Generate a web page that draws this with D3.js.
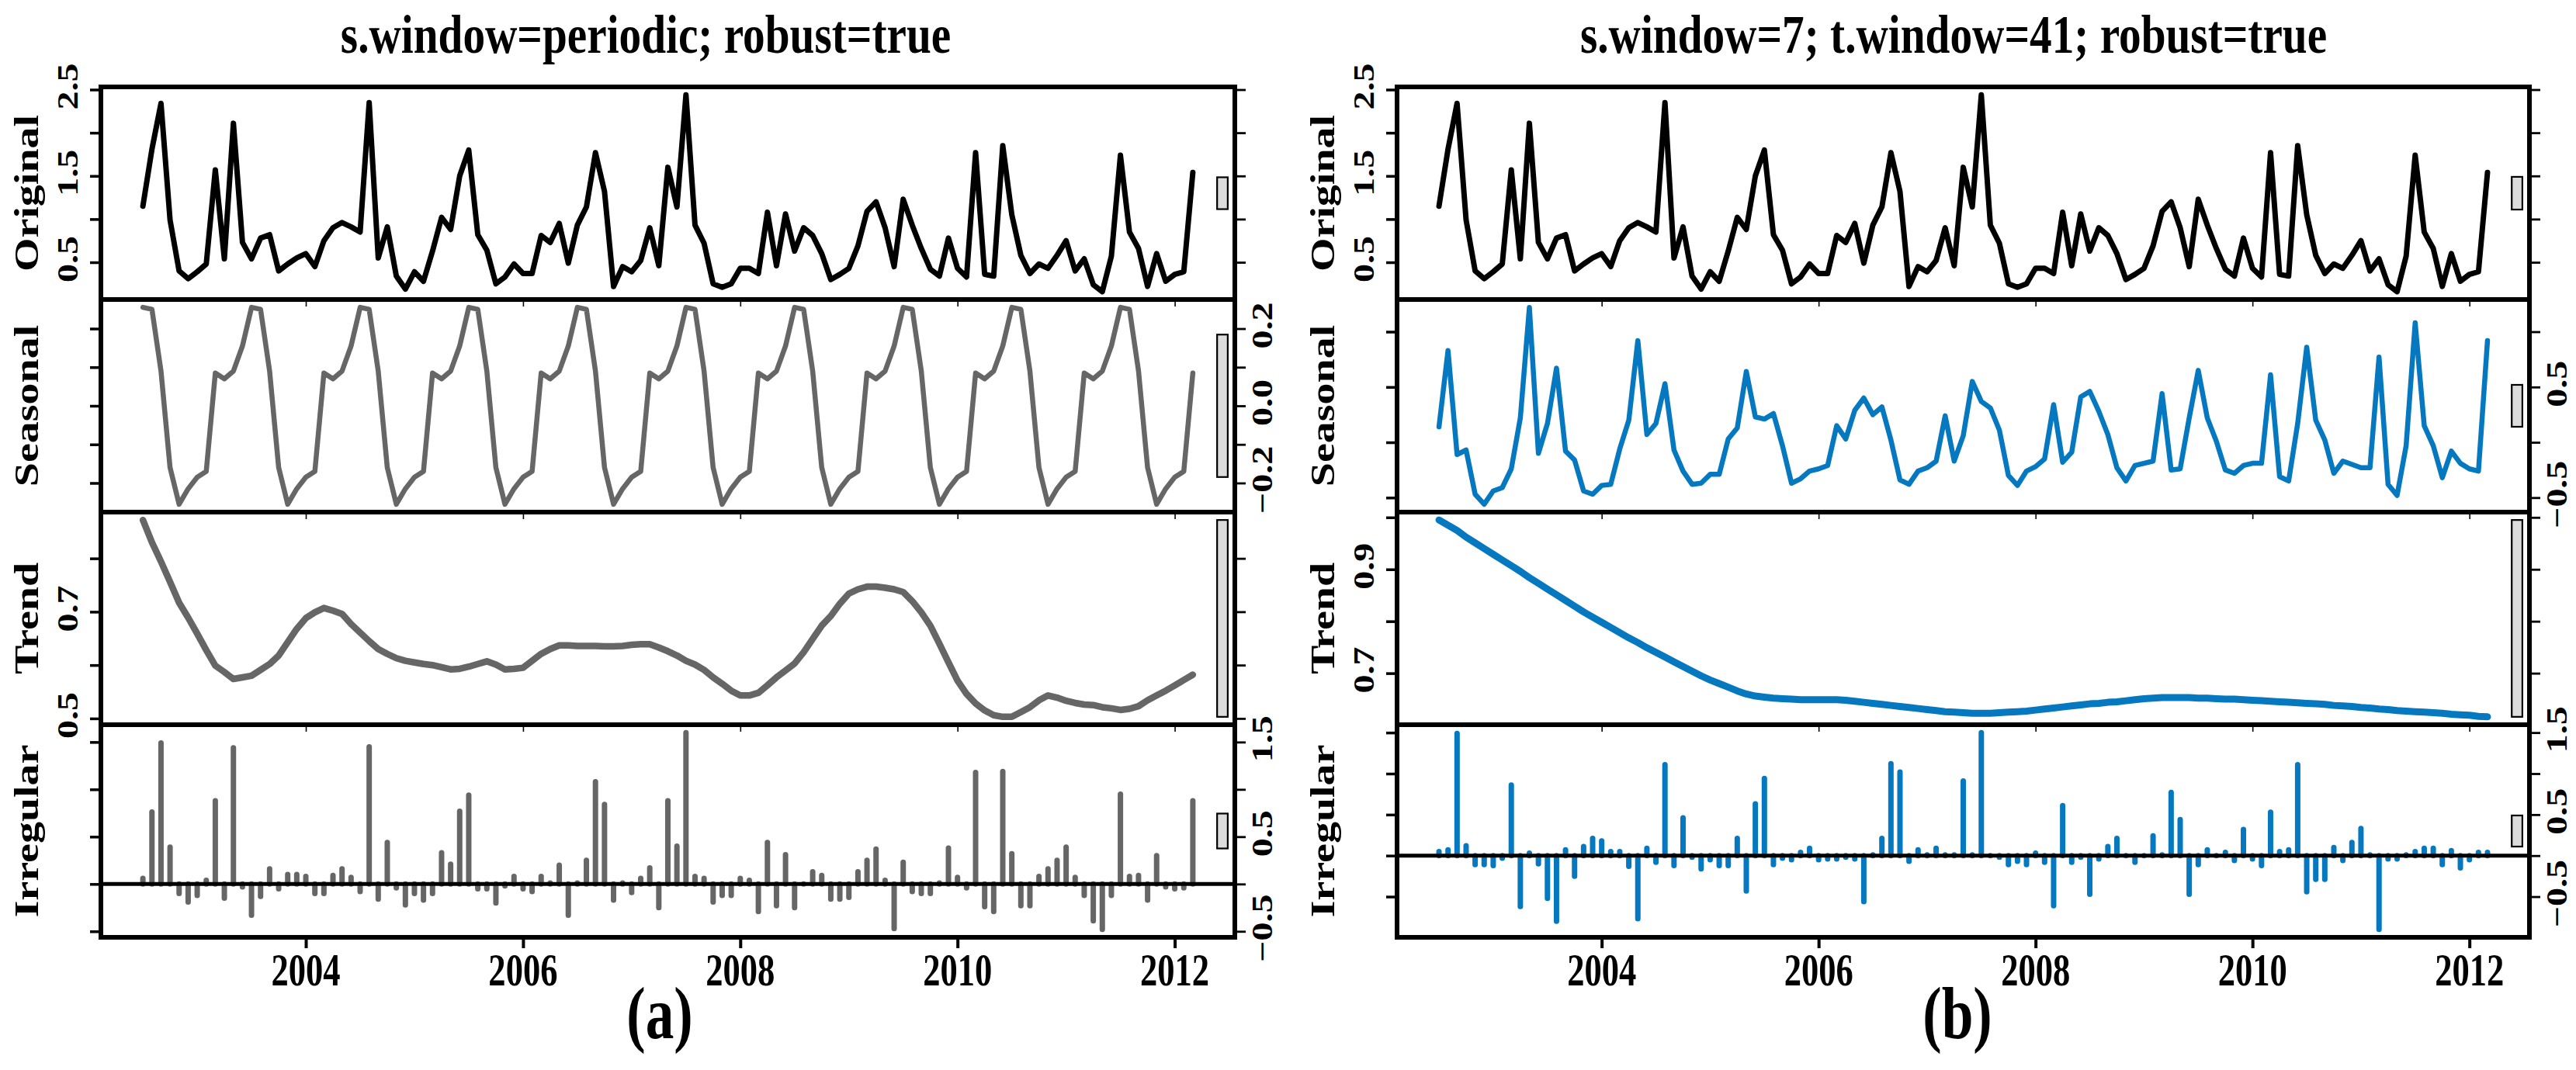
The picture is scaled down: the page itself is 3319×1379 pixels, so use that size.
<!DOCTYPE html>
<html>
<head>
<meta charset="utf-8">
<script src="https://cdn.jsdelivr.net/npm/d3@7"></script>
<style>
  body { margin: 0; background: #fff; }
  text { font-family: "Liberation Serif", "Times New Roman", serif; font-weight: bold; fill: #000; }
</style>
</head>
<body>
<div id="chart"></div>
<script>
// monthly series, July 2002 .. March 2012
const startYear = 2002.5;

const original = [
  1.15, 1.81, 2.34, 0.99, 0.40, 0.31, 0.39, 0.48, 1.57, 0.54,
  2.11, 0.73, 0.54, 0.78, 0.82, 0.40, 0.48, 0.55, 0.60, 0.45,
  0.75, 0.90, 0.96, 0.91, 0.85, 2.35, 0.55, 0.91, 0.34, 0.19,
  0.39, 0.28, 0.63, 1.02, 0.88, 1.50, 1.80, 0.82, 0.64, 0.25,
  0.33, 0.48, 0.37, 0.37, 0.81, 0.73, 0.95, 0.49, 0.93, 1.14,
  1.77, 1.32, 0.22, 0.45, 0.39, 0.52, 0.90, 0.46, 1.60, 1.14,
  2.44, 0.93, 0.72, 0.25, 0.21, 0.25, 0.43, 0.43, 0.37, 1.08,
  0.46, 1.06, 0.63, 0.90, 0.81, 0.60, 0.30, 0.36, 0.43, 0.69,
  1.09, 1.20, 0.90, 0.45, 1.23, 0.93, 0.66, 0.42, 0.34, 0.78,
  0.43, 0.33, 1.77, 0.36, 0.34, 1.85, 1.05, 0.58, 0.37, 0.48,
  0.43, 0.58, 0.75, 0.40, 0.54, 0.24, 0.16, 0.57, 1.74, 0.85,
  0.66, 0.22, 0.60, 0.28, 0.36, 0.39, 1.54
];

// (a) s.window = periodic
const seasonalA = [
  0.255, 0.25, 0.09, -0.16, -0.255, -0.215, -0.185, -0.17, 0.085, 0.07, 0.09, 0.155,
  0.255, 0.25, 0.09, -0.16, -0.255, -0.215, -0.185, -0.17, 0.085, 0.07, 0.09, 0.155,
  0.255, 0.25, 0.09, -0.16, -0.255, -0.215, -0.185, -0.17, 0.085, 0.07, 0.09, 0.155,
  0.255, 0.25, 0.09, -0.16, -0.255, -0.215, -0.185, -0.17, 0.085, 0.07, 0.09, 0.155,
  0.255, 0.25, 0.09, -0.16, -0.255, -0.215, -0.185, -0.17, 0.085, 0.07, 0.09, 0.155,
  0.255, 0.25, 0.09, -0.16, -0.255, -0.215, -0.185, -0.17, 0.085, 0.07, 0.09, 0.155,
  0.255, 0.25, 0.09, -0.16, -0.255, -0.215, -0.185, -0.17, 0.085, 0.07, 0.09, 0.155,
  0.255, 0.25, 0.09, -0.16, -0.255, -0.215, -0.185, -0.17, 0.085, 0.07, 0.09, 0.155,
  0.255, 0.25, 0.09, -0.16, -0.255, -0.215, -0.185, -0.17, 0.085, 0.07, 0.09, 0.155,
  0.255, 0.25, 0.09, -0.16, -0.255, -0.215, -0.185, -0.17, 0.085
];

const trendA = [
  0.872, 0.830, 0.794, 0.756, 0.717, 0.689, 0.659, 0.628, 0.599, 0.587,
  0.574, 0.577, 0.580, 0.591, 0.602, 0.618, 0.643, 0.668, 0.688, 0.699,
  0.707, 0.702, 0.696, 0.677, 0.661, 0.645, 0.630, 0.621, 0.613, 0.608,
  0.605, 0.602, 0.600, 0.596, 0.592, 0.593, 0.597, 0.602, 0.607, 0.601,
  0.592, 0.593, 0.595, 0.608, 0.621, 0.630, 0.637, 0.637, 0.636, 0.636,
  0.636, 0.635, 0.635, 0.636, 0.638, 0.639, 0.639, 0.633, 0.626, 0.618,
  0.608, 0.601, 0.591, 0.577, 0.565, 0.552, 0.543, 0.543, 0.548, 0.562,
  0.577, 0.590, 0.603, 0.624, 0.649, 0.674, 0.692, 0.715, 0.734, 0.742,
  0.747, 0.747, 0.745, 0.742, 0.737, 0.720, 0.699, 0.674, 0.640, 0.605,
  0.571, 0.546, 0.528, 0.515, 0.506, 0.503, 0.503, 0.512, 0.521, 0.534,
  0.543, 0.539, 0.533, 0.529, 0.526, 0.525, 0.521, 0.519, 0.516, 0.518,
  0.523, 0.534, 0.543, 0.552, 0.562, 0.572, 0.582
];

const irregularA = [
  0.06, 0.76, 1.49, 0.39, -0.10, -0.19, -0.12, 0.04, 0.88, -0.15,
  1.44, -0.03, -0.33, -0.13, 0.16, -0.05, 0.10, 0.10, 0.08, -0.10,
  -0.10, 0.09, 0.16, 0.07, -0.08, 1.45, -0.16, 0.44, -0.04, -0.22,
  -0.10, -0.17, -0.10, 0.33, 0.21, 0.77, 0.94, -0.05, -0.05, -0.20,
  -0.02, 0.08, -0.05, -0.08, 0.08, 0.01, 0.20, -0.33, 0.01, 0.25,
  1.08, 0.84, -0.17, 0.01, -0.09, 0.06, 0.17, -0.25, 0.88, 0.40,
  1.60, 0.08, 0.06, -0.19, -0.12, -0.12, 0.06, 0.04, -0.29, 0.44,
  -0.23, 0.31, -0.25, 0.00, 0.13, 0.09, -0.16, -0.16, -0.14, 0.13,
  0.25, 0.37, 0.04, -0.47, 0.23, -0.08, -0.10, -0.10, 0.01, 0.38,
  0.07, -0.04, 1.18, -0.24, -0.29, 1.19, 0.32, -0.23, -0.23, 0.08,
  0.16, 0.25, 0.39, 0.07, -0.12, -0.39, -0.48, -0.12, 0.95, 0.08,
  0.09, -0.17, 0.30, -0.03, -0.05, -0.04, 0.88
];

// (b) s.window = 7, t.window = 41
const seasonalB = [
  0.14, 0.83, -0.11, -0.07, -0.47, -0.56, -0.44, -0.41, -0.24, 0.22,
  1.22, -0.10, 0.17, 0.67, -0.08, -0.16, -0.44, -0.47, -0.39, -0.38,
  -0.06, 0.20, 0.92, 0.07, 0.17, 0.53, -0.07, -0.26, -0.38, -0.37,
  -0.29, -0.29, 0.03, 0.13, 0.64, 0.23, 0.21, 0.26, -0.03, -0.37,
  -0.33, -0.26, -0.24, -0.21, 0.15, 0.03, 0.29, 0.40, 0.25, 0.32,
  0.02, -0.34, -0.38, -0.26, -0.23, -0.17, 0.24, -0.17, 0.06, 0.55,
  0.37, 0.31, 0.11, -0.30, -0.39, -0.26, -0.22, -0.15, 0.34, -0.18,
  -0.09, 0.41, 0.46, 0.28, 0.07, -0.23, -0.35, -0.21, -0.19, -0.17,
  0.44, -0.25, -0.24, 0.22, 0.65, 0.22, 0.01, -0.25, -0.28, -0.21,
  -0.19, -0.19, 0.61, -0.31, -0.35, 0.17, 0.86, 0.20, 0.02, -0.28,
  -0.17, -0.20, -0.23, -0.23, 0.77, -0.38, -0.48, -0.03, 1.08, 0.15,
  -0.03, -0.32, -0.08, -0.19, -0.24, -0.26, 0.92
];

const trendB = [
  0.995, 0.985, 0.975, 0.962, 0.951, 0.940, 0.929, 0.918, 0.907, 0.896,
  0.884, 0.873, 0.862, 0.851, 0.840, 0.829, 0.818, 0.808, 0.798, 0.788,
  0.778, 0.768, 0.759, 0.749, 0.740, 0.731, 0.722, 0.713, 0.704, 0.695,
  0.687, 0.680, 0.673, 0.666, 0.660, 0.656, 0.654, 0.652, 0.651, 0.650,
  0.649, 0.649, 0.649, 0.649, 0.649, 0.648, 0.646, 0.644, 0.642, 0.640,
  0.638, 0.636, 0.634, 0.632, 0.630, 0.628, 0.626, 0.625, 0.624, 0.623,
  0.623, 0.623, 0.624, 0.625, 0.626, 0.627, 0.629, 0.631, 0.633, 0.635,
  0.637, 0.639, 0.641, 0.642, 0.644, 0.645, 0.647, 0.649, 0.651, 0.652,
  0.653, 0.653, 0.653, 0.653, 0.652, 0.652, 0.651, 0.650, 0.650, 0.649,
  0.648, 0.647, 0.646, 0.645, 0.644, 0.643, 0.642, 0.641, 0.640, 0.638,
  0.637, 0.636, 0.634, 0.633, 0.631, 0.630, 0.628, 0.627, 0.626, 0.625,
  0.624, 0.623, 0.621, 0.620, 0.619, 0.617, 0.616
];

const irregularB = [
  0.05, 0.07, 1.49, 0.12, -0.11, -0.11, -0.12, -0.03, 0.86, -0.62,
  0.03, -0.10, -0.52, -0.80, 0.07, -0.25, 0.11, 0.21, 0.18, 0.05,
  0.05, -0.13, -0.77, 0.09, -0.08, 1.11, -0.12, 0.46, -0.02, -0.16,
  -0.05, -0.12, -0.12, 0.21, -0.43, 0.63, 0.94, -0.11, -0.03, -0.05,
  0.04, 0.09, -0.05, -0.04, -0.04, -0.02, -0.04, -0.56, 0.01, 0.21,
  1.12, 1.02, -0.07, 0.07, 0.01, 0.09, 0.01, 0.01, 0.91, 0.01,
  1.50, 0.00, -0.02, -0.11, -0.07, -0.11, 0.03, -0.08, -0.61, 0.61,
  -0.08, -0.02, -0.47, -0.04, 0.11, 0.21, 0.00, -0.08, 0.00, 0.24,
  0.01, 0.77, 0.44, -0.47, -0.11, 0.07, 0.00, 0.04, -0.06, 0.32,
  -0.04, -0.12, 0.53, 0.05, 0.07, 1.11, -0.44, -0.29, -0.29, 0.10,
  -0.06, 0.16, 0.33, 0.01, -0.90, -0.04, -0.04, 0.01, 0.05, 0.09,
  0.09, -0.11, 0.06, -0.15, -0.05, 0.04, 0.04
];

const panelNames = ["Original", "Seasonal", "Trend", "Irregular"];
const titles = ["s.window=periodic; robust=true", "s.window=7; t.window=41; robust=true"];
const figLetters = ["(a)", "(b)"];
const yearTicks = [2004, 2006, 2008, 2010, 2012];

const origTicks = [0.5, 1, 1.5, 2, 2.5], origLabels = [0.5, 1.5, 2.5];
const seasATicks = [-0.2, -0.1, 0, 0.1, 0.2], seasALabels = [-0.2, 0, 0.2];
const trendATicks = [0.5, 0.6, 0.7, 0.8], trendALabels = [0.5, 0.7];
const irrATicks = [-0.5, 0, 0.5, 1, 1.5], irrALabels = [-0.5, 0.5, 1.5];
const seasBTicks = [-0.5, 0, 0.5, 1], seasBLabels = [-0.5, 0.5];
const trendBTicks = [0.7, 0.8, 0.9, 1], trendBLabels = [0.7, 0.9];
const irrBTicks = [-0.5, 0, 0.5, 1, 1.5], irrBLabels = [-0.5, 0.5, 1.5];

const W = 3319, H = 1379;
const panelTop = 112, panelH = 274;
const gray = "#666666", blue = "#0578c0";
const serif = '"Liberation Serif", "Times New Roman", serif';

const svg = d3.select("#chart").append("svg")
  .attr("width", W).attr("height", H)
  .attr("viewBox", [0, 0, W, H]);
svg.append("rect").attr("width", W).attr("height", H).attr("fill", "#fff");

const times = original.map((d, i) => startYear + i / 12);
const fmt = d3.format(".1f");

// horizontal text squeezed sideways, as in the picture
function hText(x, y, str, size, sx) {
  svg.append("text")
    .attr("transform", `translate(${x},${y}) scale(${sx},1)`)
    .attr("text-anchor", "middle")
    .attr("font-family", serif).attr("font-weight", "bold")
    .attr("font-size", size)
    .text(str);
}
// vertical text reading upwards, baseline at x
function vText(x, y, str, size, sy) {
  svg.append("text")
    .attr("transform", `translate(${x},${y}) rotate(-90) scale(1,${sy})`)
    .attr("text-anchor", "middle")
    .attr("font-family", serif).attr("font-weight", "bold")
    .attr("font-size", size)
    .text(str);
}

function drawFigure(left, right, titleX, letterX, panels) {
  const tExt = d3.extent(times);
  const tPad = 0.04 * (tExt[1] - tExt[0]);
  const x = d3.scaleLinear().domain([tExt[0] - tPad, tExt[1] + tPad]).range([left, right]);

  // range bars share the smallest component range
  const mx = d3.min(panels, p => { const e = d3.extent(p.values); return e[1] - e[0]; });
  const dx = (x.domain()[1] - x.domain()[0]) / 64;

  panels.forEach((p, k) => {
    const top = panelTop + k * panelH, bottom = top + panelH;
    const e = d3.extent(p.values);
    const pad = 0.04 * (e[1] - e[0]);
    const y = d3.scaleLinear().domain([e[0] - pad, e[1] + pad]).range([bottom, top]);
    const g = svg.append("g");
    const last = k === panels.length - 1;

    if (p.type === "line") {
      g.append("path")
        .datum(p.values)
        .attr("fill", "none")
        .attr("stroke", p.color)
        .attr("stroke-width", p.width)
        .attr("stroke-linejoin", "round")
        .attr("stroke-linecap", "round")
        .attr("d", d3.line().x((d, i) => x(times[i])).y(d => y(d)));
    } else {
      g.selectAll("line.bar")
        .data(p.values)
        .join("line")
        .attr("class", "bar")
        .attr("x1", (d, i) => x(times[i])).attr("x2", (d, i) => x(times[i]))
        .attr("y1", y(0)).attr("y2", d => y(d))
        .attr("stroke", p.color)
        .attr("stroke-width", p.width)
        .attr("stroke-linecap", "round");
    }

    // range bar
    const mid = (e[0] + e[1]) / 2;
    const xr = x.domain()[1];
    g.append("rect")
      .attr("x", x(xr - dx)).attr("width", x(xr - 0.4 * dx) - x(xr - dx))
      .attr("y", y(mid + mx / 2)).attr("height", y(mid - mx / 2) - y(mid + mx / 2))
      .attr("fill", "#dcdcdc").attr("stroke", "#000").attr("stroke-width", 2.2);

    if (last) {
      g.append("line")
        .attr("x1", left).attr("x2", right)
        .attr("y1", y(0)).attr("y2", y(0))
        .attr("stroke", "#000").attr("stroke-width", 5);
    }

    g.append("rect")
      .attr("x", left).attr("y", top)
      .attr("width", right - left).attr("height", panelH)
      .attr("fill", "none").attr("stroke", "#000").attr("stroke-width", 6);

    const styleAxis = (w) => s => {
      s.select(".domain").remove();
      s.selectAll(".tick line").attr("stroke", "#000").attr("stroke-width", w);
    };
    g.append("g").attr("transform", `translate(${left},0)`)
      .call(d3.axisLeft(y).tickValues(p.ticks).tickSize(14).tickFormat(""))
      .call(styleAxis(3.5));
    g.append("g").attr("transform", `translate(${right},0)`)
      .call(d3.axisRight(y).tickValues(p.ticks).tickSize(14).tickFormat(""))
      .call(styleAxis(2.8));
    g.append("g").attr("transform", `translate(0,${bottom})`)
      .call(d3.axisBottom(x).tickValues(yearTicks).tickSize(last ? 14 : 9).tickFormat(""))
      .call(styleAxis(last ? 4 : 1.6));

    // tick labels, alternating sides
    p.labels.forEach(v => {
      if (k % 2 === 0) vText(left - 30, y(v) - 4, fmt(v), 48, 0.78);
      else vText(right + 48, y(v) - 4, fmt(v), 48, 0.78);
    });

    vText(left - 81, (top + bottom) / 2, panelNames[k], 56, 0.78);

    if (last) {
      yearTicks.forEach(t => hText(x(t), 1270, String(t), 59, 0.755));
    }
  });

  hText(titleX, 68, panels.title, 69, 0.83);
  hText(letterX, 1338, panels.letter, 95, 0.77);
}

const figA = [
  { values: original, type: "line", color: "#000", width: 7, ticks: origTicks, labels: origLabels },
  { values: seasonalA, type: "line", color: gray, width: 6.5, ticks: seasATicks, labels: seasALabels },
  { values: trendA, type: "line", color: gray, width: 8.5, ticks: trendATicks, labels: trendALabels },
  { values: irregularA, type: "bar", color: gray, width: 7, ticks: irrATicks, labels: irrALabels }
];
figA.title = titles[0];
figA.letter = figLetters[0];

const figB = [
  { values: original, type: "line", color: "#000", width: 7, ticks: origTicks, labels: origLabels },
  { values: seasonalB, type: "line", color: blue, width: 6.5, ticks: seasBTicks, labels: seasBLabels },
  { values: trendB, type: "line", color: blue, width: 9, ticks: trendBTicks, labels: trendBLabels },
  { values: irregularB, type: "bar", color: blue, width: 7, ticks: irrBTicks, labels: irrBLabels }
];
figB.title = titles[1];
figB.letter = figLetters[1];

drawFigure(130, 1591, 832, 850, figA);
drawFigure(1800, 3259, 2517, 2522, figB);
</script>
</body>
</html>
